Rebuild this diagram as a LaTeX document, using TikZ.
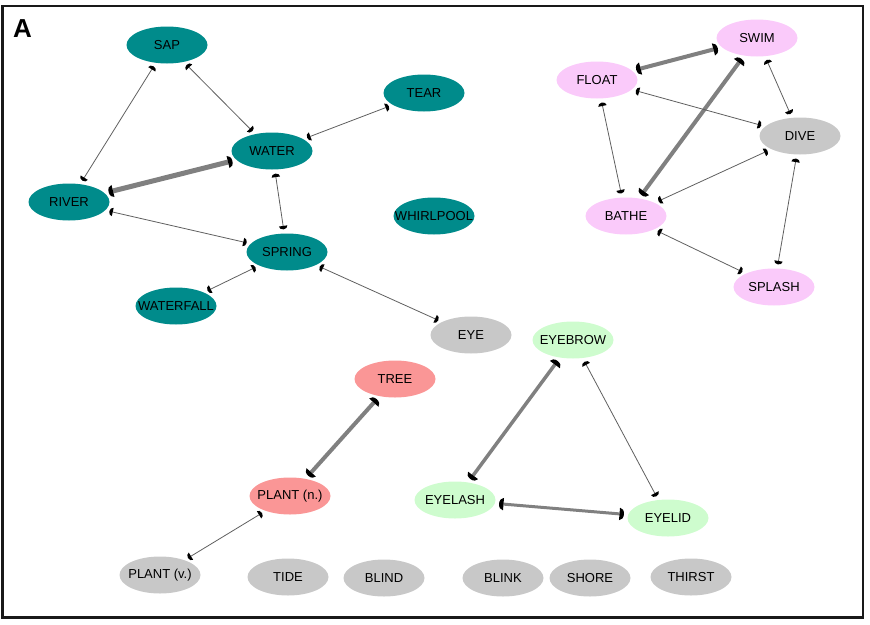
\documentclass[tikz,border=0pt]{standalone}
\usepackage{fontspec}
\setmainfont{Liberation Sans}
\usetikzlibrary{arrows.meta,shapes.geometric}

\pgfdeclarearrow{
  name = HalfDisk,
  parameters = {\the\pgfarrowlength,\the\pgfarrowwidth},
  setup code = {
    \pgfarrowssettipend{\pgfarrowlength}
    \pgfarrowssetlineend{0pt}
    \pgfarrowssetbackend{0pt}
    \pgfarrowssavethe\pgfarrowlength
    \pgfarrowssavethe\pgfarrowwidth
  },
  drawing code = {
    \pgfpathmoveto{\pgfqpoint{0pt}{-.5\pgfarrowwidth}}
    \pgfpatharc{-90}{90}{\pgfarrowlength and .5\pgfarrowwidth}
    \pgfpathclose
    \pgfusepathqfill
  },
  defaults = {length=2.5pt, width=6pt}
}

\definecolor{tealnode}{RGB}{0,139,139}
\definecolor{pinknode}{RGB}{250,202,250}
\definecolor{graynode}{RGB}{200,200,200}
\definecolor{greennode}{RGB}{206,252,206}
\definecolor{rednode}{RGB}{250,150,150}
\definecolor{thickgray}{RGB}{128,128,128}
\definecolor{thingray}{RGB}{95,95,95}

\newcommand{\nlab}[1]{\makebox[0pt][c]{#1}}

\tikzset{
  wnode/.style={ellipse, minimum width=81pt, minimum height=37pt, inner sep=0pt,
    font=\fontsize{13}{14}\selectfont, text=black},
  tealn/.style={wnode, fill=tealnode},
  pinkn/.style={wnode, fill=pinknode},
  grayn/.style={wnode, fill=graynode},
  greenn/.style={wnode, fill=greennode},
  redn/.style={wnode, fill=rednode},
  thinlink/.style={draw=thingray, line width=0.8pt, shorten <=4pt, shorten >=4pt,
    arrows={HalfDisk[length=3.5pt,width=8.5pt,color=black]-HalfDisk[length=3.5pt,width=8.5pt,color=black]}},
  thicklink/.style={draw=thickgray, line width=#1, shorten <=4pt, shorten >=4pt,
    arrows={HalfDisk[length=4.5pt,width=12.5pt,color=black]-HalfDisk[length=4.5pt,width=12.5pt,color=black]}},
}

\begin{document}
\begin{tikzpicture}[x=1pt,y=-1pt]
\useasboundingbox (0,0) rectangle (870,624);
\draw[line width=2.6pt, draw=black!90] (2.5,6) rectangle (863,617.5);
\node[font=\fontsize{26}{28}\selectfont\bfseries] (lbl) at (22.5,29) {A};

% water cluster
\node[tealn] (sap) at (167,45) {\nlab{SAP}};
\node[tealn] (tear) at (424,93) {\nlab{TEAR}};
\node[tealn] (water) at (272,151) {\nlab{WATER}};
\node[tealn] (river) at (69,202) {\nlab{RIVER}};
\node[tealn] (whirl) at (434,216) {\nlab{WHIRLPOOL}};
\node[tealn] (spring) at (287,252) {\nlab{SPRING}};
\node[tealn] (wfall) at (176,306) {\nlab{WATERFALL}};
\node[grayn] (eye) at (471,335) {\nlab{EYE}};

% swim cluster
\node[pinkn] (swim) at (757,38) {\nlab{SWIM}};
\node[pinkn] (float) at (597,80) {\nlab{FLOAT}};
\node[grayn] (dive) at (800,136) {\nlab{DIVE}};
\node[pinkn] (bathe) at (626,216) {\nlab{BATHE}};
\node[pinkn] (splash) at (774,287) {\nlab{SPLASH}};

% eye cluster
\node[greenn] (eyebrow) at (573,340) {\nlab{EYEBROW}};
\node[greenn] (eyelash) at (455,500) {\nlab{EYELASH}};
\node[greenn] (eyelid) at (668,518) {\nlab{EYELID}};

% plant cluster
\node[redn] (tree) at (395,379) {\nlab{TREE}};
\node[redn] (plantn) at (290,496) {\nlab{PLANT (n.)}};
\node[grayn] (plantv) at (160,575) {\nlab{PLANT (v.)}};

% isolated
\node[grayn] (tide) at (288,577) {\nlab{TIDE}};
\node[grayn] (blind) at (384,578) {\nlab{BLIND}};
\node[grayn] (blink) at (503,578) {\nlab{BLINK}};
\node[grayn] (shore) at (590,578) {\nlab{SHORE}};
\node[grayn] (thirst) at (691,577) {\nlab{THIRST}};

% edges
\draw[thinlink] (sap) -- (river);
\draw[thinlink] (sap) -- (water);
\draw[thinlink] (tear) -- (water);
\draw[thicklink=5pt] (water) -- (river);
\draw[thinlink] (water) -- (spring);
\draw[thinlink] (river) -- (spring);
\draw[thinlink] (spring) -- (wfall);
\draw[thinlink] (spring) -- (eye);

\draw[thicklink=4pt] (swim) -- (float);
\draw[thicklink=4pt] (swim) -- (bathe);
\draw[thinlink] (swim) -- (dive);
\draw[thinlink] (float) -- (dive);
\draw[thinlink] (float) -- (bathe);
\draw[thinlink] (dive) -- (bathe);
\draw[thinlink] (dive) -- (splash);
\draw[thinlink] (bathe) -- (splash);

\draw[thicklink=4pt] (tree) -- (plantn);
\draw[thinlink] (plantn) -- (plantv);
\draw[thicklink=3.5pt] (eyebrow) -- (eyelash);
\draw[thinlink] (eyebrow) -- (eyelid);
\draw[thicklink=3pt] (eyelash) -- (eyelid);
\end{tikzpicture}
\end{document}
